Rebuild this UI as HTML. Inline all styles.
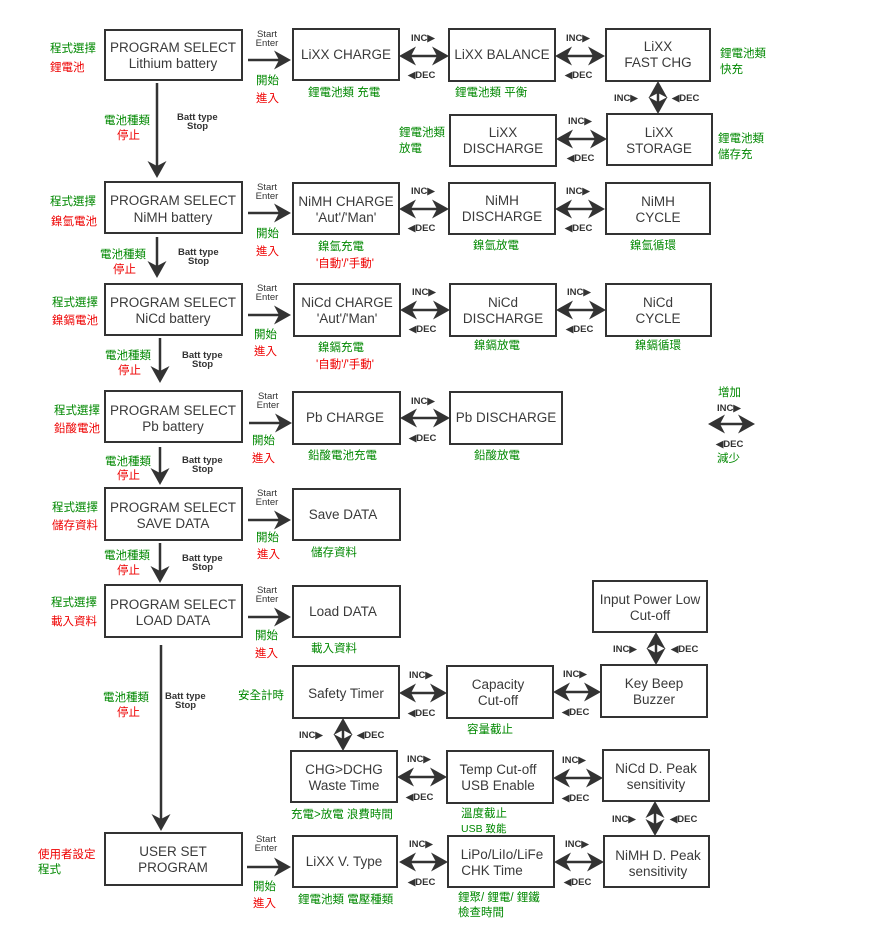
<!DOCTYPE html>
<html><head><meta charset="utf-8"><style>
html,body{margin:0;padding:0;background:#fff}
svg{display:block}
.b{fill:none;stroke:#333;stroke-width:2}
.t{font-family:"Liberation Sans","Noto Sans CJK TC",sans-serif;font-size:13.5px;fill:#3a3a3a;text-anchor:middle}
.s{font-family:"Liberation Sans",sans-serif;font-size:9.5px;font-weight:bold;fill:#333}
.se{font-family:"Liberation Sans",sans-serif;font-size:9.5px;fill:#333;text-anchor:middle}
.g{font-family:"Liberation Sans","Noto Sans CJK TC",sans-serif;font-size:11.5px;fill:#080}
.r{font-family:"Liberation Sans","Noto Sans CJK TC",sans-serif;font-size:11.5px;fill:#e00}
.l{stroke:#333;stroke-width:2.5;fill:none}
</style></head><body>
<svg width="879" height="927" viewBox="0 0 879 927" xmlns="http://www.w3.org/2000/svg">
<defs>
<marker id="a" markerUnits="userSpaceOnUse" markerWidth="17" markerHeight="19" refX="14" refY="9.5" orient="auto-start-reverse" viewBox="0 0 17 19"><path d="M0,0 L17,9.5 L0,19 L5,9.5 z" fill="#333"/></marker>
</defs>
<g class="b">
<rect x="105" y="30" width="137" height="50"/><rect x="293" y="29" width="106" height="51"/><rect x="449" y="29" width="106" height="52"/><rect x="606" y="29" width="104" height="52"/>
<rect x="450" y="115" width="106" height="51"/><rect x="607" y="114" width="105" height="51"/>
<rect x="105" y="182" width="137" height="51"/><rect x="293" y="183" width="106" height="51"/><rect x="449" y="183" width="106" height="51"/><rect x="606" y="183" width="104" height="51"/>
<rect x="105" y="284" width="137" height="51"/><rect x="294" y="284" width="106" height="52"/><rect x="450" y="284" width="106" height="52"/><rect x="606" y="284" width="105" height="52"/>
<rect x="105" y="391" width="137" height="51"/><rect x="293" y="392" width="107" height="52"/><rect x="450" y="392" width="112" height="52"/>
<rect x="105" y="488" width="137" height="52"/><rect x="293" y="489" width="107" height="51"/>
<rect x="105" y="585" width="137" height="52"/><rect x="293" y="586" width="107" height="51"/>
<rect x="593" y="581" width="114" height="51"/>
<rect x="293" y="666" width="106" height="52"/><rect x="447" y="666" width="106" height="52"/><rect x="601" y="665" width="106" height="52"/>
<rect x="291" y="751" width="106" height="51"/><rect x="447" y="751" width="106" height="52"/><rect x="603" y="750" width="106" height="51"/>
<rect x="105" y="833" width="137" height="52"/><rect x="293" y="836" width="104" height="51"/><rect x="448" y="836" width="106" height="51"/><rect x="604" y="836" width="105" height="51"/>
</g>
<g class="t">
<text x="173" y="52">PROGRAM SELECT</text><text x="173" y="68">Lithium battery</text>
<text x="346" y="59">LiXX CHARGE</text><text x="502" y="59">LiXX BALANCE</text>
<text x="658" y="51">LiXX</text><text x="658" y="67">FAST CHG</text>
<text x="503" y="137">LiXX</text><text x="503" y="153">DISCHARGE</text>
<text x="659" y="137">LiXX</text><text x="659" y="153">STORAGE</text>
<text x="173" y="205">PROGRAM SELECT</text><text x="173" y="222">NiMH battery</text>
<text x="346" y="206">NiMH CHARGE</text><text x="346" y="222">'Aut'/'Man'</text>
<text x="502" y="205">NiMH</text><text x="502" y="221">DISCHARGE</text>
<text x="658" y="206">NiMH</text><text x="658" y="222">CYCLE</text>
<text x="173" y="307">PROGRAM SELECT</text><text x="173" y="323">NiCd battery</text>
<text x="347" y="307">NiCd CHARGE</text><text x="347" y="323">'Aut'/'Man'</text>
<text x="503" y="307">NiCd</text><text x="503" y="323">DISCHARGE</text>
<text x="658" y="307">NiCd</text><text x="658" y="323">CYCLE</text>
<text x="173" y="415">PROGRAM SELECT</text><text x="173" y="431">Pb battery</text>
<text x="345" y="422">Pb CHARGE</text><text x="506" y="422">Pb DISCHARGE</text>
<text x="173" y="512">PROGRAM SELECT</text><text x="173" y="528">SAVE DATA</text>
<text x="343" y="519">Save DATA</text>
<text x="173" y="609">PROGRAM SELECT</text><text x="173" y="625">LOAD DATA</text>
<text x="343" y="616">Load DATA</text>
<text x="650" y="604">Input Power Low</text><text x="650" y="620">Cut-off</text>
<text x="346" y="698">Safety Timer</text>
<text x="498" y="689">Capacity</text><text x="498" y="705">Cut-off</text>
<text x="654" y="688">Key Beep</text><text x="654" y="704">Buzzer</text>
<text x="344" y="774">CHG&gt;DCHG</text><text x="344" y="790">Waste Time</text>
<text x="498" y="774">Temp Cut-off</text><text x="498" y="790">USB Enable</text>
<text x="656" y="773">NiCd D. Peak</text><text x="656" y="789">sensitivity</text>
<text x="173" y="856">USER SET</text><text x="173" y="872">PROGRAM</text>
<text x="344" y="866">LiXX V. Type</text>
<text x="502" y="859">LiPo/LiIo/LiFe</text><text x="492" y="875">CHK Time</text>
<text x="658" y="860">NiMH D. Peak</text><text x="658" y="876">sensitivity</text>
</g>
<g class="l">
<line x1="157" y1="83" x2="157" y2="175" marker-end="url(#a)"/>
<line x1="157" y1="237" x2="157" y2="275" marker-end="url(#a)"/>
<line x1="160" y1="338" x2="160" y2="380" marker-end="url(#a)"/>
<line x1="160" y1="447" x2="160" y2="482" marker-end="url(#a)"/>
<line x1="160" y1="543" x2="160" y2="580" marker-end="url(#a)"/>
<line x1="161" y1="645" x2="161" y2="828" marker-end="url(#a)"/>
<line x1="248" y1="60" x2="288" y2="60" marker-end="url(#a)"/>
<line x1="248" y1="213" x2="288" y2="213" marker-end="url(#a)"/>
<line x1="248" y1="315" x2="288" y2="315" marker-end="url(#a)"/>
<line x1="249" y1="423" x2="289" y2="423" marker-end="url(#a)"/>
<line x1="248" y1="520" x2="288" y2="520" marker-end="url(#a)"/>
<line x1="248" y1="617" x2="288" y2="617" marker-end="url(#a)"/>
<line x1="247" y1="867" x2="288" y2="867" marker-end="url(#a)"/>
<line x1="402" y1="56" x2="446" y2="56" marker-start="url(#a)" marker-end="url(#a)"/>
<line x1="558" y1="56" x2="602" y2="56" marker-start="url(#a)" marker-end="url(#a)"/>
<line x1="658" y1="84" x2="658" y2="111" marker-start="url(#a)" marker-end="url(#a)"/>
<line x1="559" y1="139" x2="604" y2="139" marker-start="url(#a)" marker-end="url(#a)"/>
<line x1="402" y1="209" x2="446" y2="209" marker-start="url(#a)" marker-end="url(#a)"/>
<line x1="558" y1="209" x2="602" y2="209" marker-start="url(#a)" marker-end="url(#a)"/>
<line x1="403" y1="310" x2="447" y2="310" marker-start="url(#a)" marker-end="url(#a)"/>
<line x1="559" y1="310" x2="603" y2="310" marker-start="url(#a)" marker-end="url(#a)"/>
<line x1="403" y1="418" x2="447" y2="418" marker-start="url(#a)" marker-end="url(#a)"/>
<line x1="711" y1="424" x2="752" y2="424" marker-start="url(#a)" marker-end="url(#a)"/>
<line x1="656" y1="635" x2="656" y2="662" marker-start="url(#a)" marker-end="url(#a)"/>
<line x1="402" y1="693" x2="444" y2="693" marker-start="url(#a)" marker-end="url(#a)"/>
<line x1="556" y1="692" x2="598" y2="692" marker-start="url(#a)" marker-end="url(#a)"/>
<line x1="343" y1="721" x2="343" y2="748" marker-start="url(#a)" marker-end="url(#a)"/>
<line x1="400" y1="777" x2="444" y2="777" marker-start="url(#a)" marker-end="url(#a)"/>
<line x1="556" y1="778" x2="600" y2="778" marker-start="url(#a)" marker-end="url(#a)"/>
<line x1="655" y1="804" x2="655" y2="833" marker-start="url(#a)" marker-end="url(#a)"/>
<line x1="402" y1="862" x2="445" y2="862" marker-start="url(#a)" marker-end="url(#a)"/>
<line x1="557" y1="862" x2="601" y2="862" marker-start="url(#a)" marker-end="url(#a)"/>
</g>
<g class="s">
<text x="411" y="41">INC▶</text><text x="408" y="78">◀DEC</text>
<text x="566" y="41">INC▶</text><text x="565" y="78">◀DEC</text>
<text x="614" y="101">INC▶</text><text x="672" y="101">◀DEC</text>
<text x="568" y="124">INC▶</text><text x="567" y="161">◀DEC</text>
<text x="411" y="194">INC▶</text><text x="408" y="231">◀DEC</text>
<text x="566" y="194">INC▶</text><text x="565" y="231">◀DEC</text>
<text x="412" y="295">INC▶</text><text x="409" y="332">◀DEC</text>
<text x="567" y="295">INC▶</text><text x="566" y="332">◀DEC</text>
<text x="411" y="404">INC▶</text><text x="409" y="441">◀DEC</text>
<text x="717" y="411">INC▶</text><text x="716" y="447">◀DEC</text>
<text x="613" y="652">INC▶</text><text x="671" y="652">◀DEC</text>
<text x="409" y="678">INC▶</text><text x="408" y="716">◀DEC</text>
<text x="563" y="677">INC▶</text><text x="562" y="715">◀DEC</text>
<text x="299" y="738">INC▶</text><text x="357" y="738">◀DEC</text>
<text x="407" y="762">INC▶</text><text x="406" y="800">◀DEC</text>
<text x="562" y="763">INC▶</text><text x="562" y="801">◀DEC</text>
<text x="612" y="822">INC▶</text><text x="670" y="822">◀DEC</text>
<text x="409" y="847">INC▶</text><text x="408" y="885">◀DEC</text>
<text x="565" y="847">INC▶</text><text x="564" y="885">◀DEC</text>
<text x="177" y="120">Batt type</text><text x="187" y="129">Stop</text>
<text x="178" y="255">Batt type</text><text x="188" y="264">Stop</text>
<text x="182" y="358">Batt type</text><text x="192" y="367">Stop</text>
<text x="182" y="463">Batt type</text><text x="192" y="472">Stop</text>
<text x="182" y="561">Batt type</text><text x="192" y="570">Stop</text>
<text x="165" y="699">Batt type</text><text x="175" y="708">Stop</text>
</g>
<g class="se">
<text x="267" y="37">Start</text><text x="267" y="46">Enter</text>
<text x="267" y="190">Start</text><text x="267" y="199">Enter</text>
<text x="267" y="291">Start</text><text x="267" y="300">Enter</text>
<text x="268" y="399">Start</text><text x="268" y="408">Enter</text>
<text x="267" y="496">Start</text><text x="267" y="505">Enter</text>
<text x="267" y="593">Start</text><text x="267" y="602">Enter</text>
<text x="266" y="842">Start</text><text x="266" y="851">Enter</text>
</g>
<g class="g">
<text x="50" y="52">程式選擇</text>
<text x="308" y="96">鋰電池類 充電</text>
<text x="455" y="96">鋰電池類 平衡</text>
<text x="720" y="57">鋰電池類</text><text x="720" y="73">快充</text>
<text x="399" y="136">鋰電池類</text><text x="399" y="152">放電</text>
<text x="718" y="142">鋰電池類</text><text x="718" y="158">儲存充</text>
<text x="104" y="124">電池種類</text>
<text x="50" y="205">程式選擇</text>
<text x="100" y="258">電池種類</text>
<text x="318" y="250">鎳氫充電</text>
<text x="473" y="249">鎳氫放電</text><text x="630" y="249">鎳氫循環</text>
<text x="52" y="306">程式選擇</text>
<text x="105" y="359">電池種類</text>
<text x="318" y="351">鎳鎘充電</text>
<text x="474" y="349">鎳鎘放電</text><text x="635" y="349">鎳鎘循環</text>
<text x="54" y="414">程式選擇</text>
<text x="105" y="465">電池種類</text>
<text x="308" y="459">鉛酸電池充電</text><text x="474" y="459">鉛酸放電</text>
<text x="718" y="396">增加</text><text x="717" y="462">減少</text>
<text x="52" y="511">程式選擇</text>
<text x="104" y="559">電池種類</text>
<text x="311" y="556">儲存資料</text>
<text x="51" y="606">程式選擇</text>
<text x="311" y="652">載入資料</text>
<text x="103" y="701">電池種類</text>
<text x="238" y="699">安全計時</text>
<text x="467" y="733">容量截止</text>
<text x="291" y="818">充電&gt;放電 浪費時間</text>
<text x="461" y="817">溫度截止</text><text x="461" y="832" style="font-size:10.5px">USB 致能</text>
<text x="256" y="84">開始</text><text x="256" y="237">開始</text><text x="254" y="338">開始</text><text x="252" y="444">開始</text><text x="256" y="541">開始</text><text x="255" y="639">開始</text><text x="253" y="890">開始</text>
<text x="298" y="903">鋰電池類 電壓種類</text>
<text x="458" y="901">鋰聚/ 鋰電/ 鋰鐵</text><text x="458" y="916">檢查時間</text>
</g>
<g class="r">
<text x="50" y="71">鋰電池</text>
<text x="117" y="139">停止</text>
<text x="51" y="225">鎳氫電池</text>
<text x="113" y="273">停止</text>
<text x="316" y="267">'自動'/'手動'</text>
<text x="52" y="324">鎳鎘電池</text>
<text x="118" y="374">停止</text>
<text x="316" y="368">'自動'/'手動'</text>
<text x="54" y="432">鉛酸電池</text>
<text x="117" y="479">停止</text>
<text x="52" y="529">儲存資料</text>
<text x="117" y="574">停止</text>
<text x="51" y="625">載入資料</text>
<text x="117" y="716">停止</text>
<text x="38" y="858">使用者設定</text><text x="38" y="873" style="fill:#080">程式</text>
<text x="256" y="102">進入</text><text x="256" y="255">進入</text><text x="254" y="355">進入</text><text x="252" y="462">進入</text><text x="257" y="558">進入</text><text x="255" y="657">進入</text><text x="253" y="907">進入</text>
</g>
</svg>
</body></html>
